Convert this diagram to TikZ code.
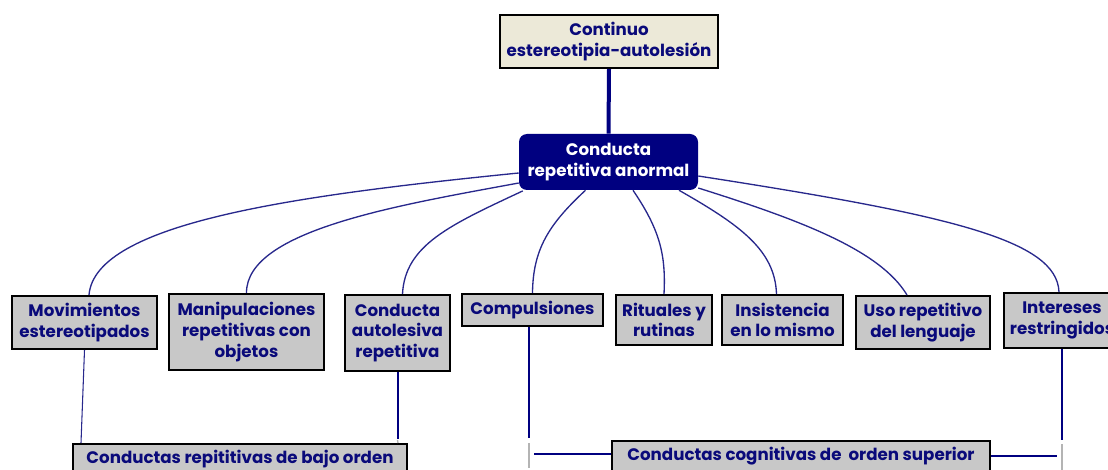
\documentclass[tikz,border=0pt]{standalone}
\usepackage{fontspec}
\setmainfont{Poppins}
\definecolor{navytext}{RGB}{10,10,122}
\definecolor{navyfill}{RGB}{0,0,128}
\definecolor{linkblue}{RGB}{40,40,140}
\definecolor{boxgray}{RGB}{200,200,200}
\definecolor{beige}{RGB}{236,233,216}
\definecolor{stubgray}{RGB}{180,180,180}
\begin{document}
\begin{tikzpicture}[x=0.75pt,y=-0.75pt,
  lbl/.style={font=\fontsize{12.5}{15.5}\selectfont\bfseries, text=navytext, align=center, inner sep=0pt},
  gbox/.style n args={2}{lbl, draw=black, line width=1.5pt, fill=boxgray,
     minimum width=#1*0.75pt, minimum height=#2*0.75pt},
  topbox/.style n args={2}{gbox={#1}{#2}, fill=beige},
  corebox/.style n args={2}{lbl, fill=navyfill, text=white, rounded corners=6pt,
     minimum width=#1*0.75pt, minimum height=#2*0.75pt},
  branch/.style={draw=linkblue, line width=1pt},
  trunk/.style={draw=navyfill, line width=1.5pt},
  thin/.style={draw=linkblue, line width=0.8pt},
  stub/.style={draw=stubgray, line width=1.5pt}]
\path[use as bounding box] (0,0) rectangle (1108,470);
\clip (0,0) rectangle (1108,470);

% top and central concepts
\node[topbox={218}{53}] (cont) at (609,41.5) {Continuo\\estereotipia-autolesión};
\node[corebox={179}{56}] (core) at (608.5,162) {Conducta\\repetitiva anormal};

% second-level concepts
\node[gbox={145}{53}] (mov) at (84.5,322.5) {Movimientos\\estereotipados};
\node[gbox={155}{76}] (man) at (246.5,332) {Manipulaciones\\repetitivas con\\objetos};
\node[gbox={105}{76}] (aut) at (397.5,333) {Conducta\\autolesiva\\repetitiva};
\node[gbox={141}{32}] (comp) at (532.5,310) {Compulsiones};
\node[gbox={96}{50}] (rit) at (664,320) {Rituales y\\rutinas};
\node[gbox={121}{50}] (ins) at (782.5,320) {Insistencia\\en lo mismo};
\node[gbox={134}{53}] (uso) at (923,322.5) {Uso repetitivo\\del lenguaje};
\node[gbox={116}{55}] (int) at (1062,320.5) {Intereses\\restringidos};

% grouping concepts
\node[gbox={334}{30}] (low) at (240,459) {Conductas repititivas de bajo orden};
\node[gbox={378}{30}] (high) at (801,456) {Conductas cognitivas de\ \ orden superior};

% trunk link
\draw[draw=navyfill, line width=3pt] (cont.south) -- (core.north);

% branches from the central concept
\draw[branch] ([yshift=-8.25pt]core.west) .. controls (300,195) and (95,222) .. ([xshift=4.5*0.75pt]mov.north);
\draw[branch] ([yshift=-15.75pt]core.west) .. controls (400,205) and (246,230) .. (man.north);
\draw[branch] (core.south west) ++(3pt,-0.5pt) coordinate (c3)
  (c3) .. controls (450,225) and (405,245) .. ([xshift=3.75pt]aut.north);
\draw[branch] ([xshift=-23*0.75pt]core.south) .. controls (548,225) and (533,250) .. (comp.north);
\draw[branch] ([xshift=24.5*0.75pt]core.south) .. controls (660,230) and (666,255) .. (rit.north);
\draw[branch] ([xshift=70.5*0.75pt]core.south) .. controls (740,225) and (775,250) .. ([xshift=-4.5pt]ins.north);
\draw[branch] ([yshift=-19.5pt]core.east) .. controls (800,220) and (880,250) .. ([xshift=-12pt]uso.north);
\draw[branch] ([yshift=-10.5pt]core.east) .. controls (950,215) and (1057,240) .. ([xshift=-2.25pt]int.north);

% links to the lower-order group
\draw[thin] (mov.south) -- ([xshift=9*0.75pt]low.north west);
\coordinate (a1) at (aut.south |- 0,439);
\draw[trunk] (aut.south) -- (a1);
\draw[stub, line width=1pt] (a1) ++(0,1) -- ([xshift=-10*0.75pt]low.north east);

% links to the higher-order group
\coordinate (cb) at (comp.south |- 0,438);
\coordinate (cs1) at (529,443);
\coordinate (cs2) at (529,468);
\draw[trunk] ([xshift=-3pt]comp.south) -- ([xshift=-3pt]cb);
\draw[stub] (cs1) -- (cs2);
\draw[trunk] (534,454) -- (high.west |- 0,454);

\coordinate (ib) at (int.south |- 0,440);
\coordinate (is1) at (1062,444);
\coordinate (is2) at (1062,470);
\draw[trunk] (int.south) -- (ib);
\draw[stub] (is1) -- (is2);
\draw[trunk] (high.east |- 0,456) -- (1057,456);
\end{tikzpicture}
\end{document}
